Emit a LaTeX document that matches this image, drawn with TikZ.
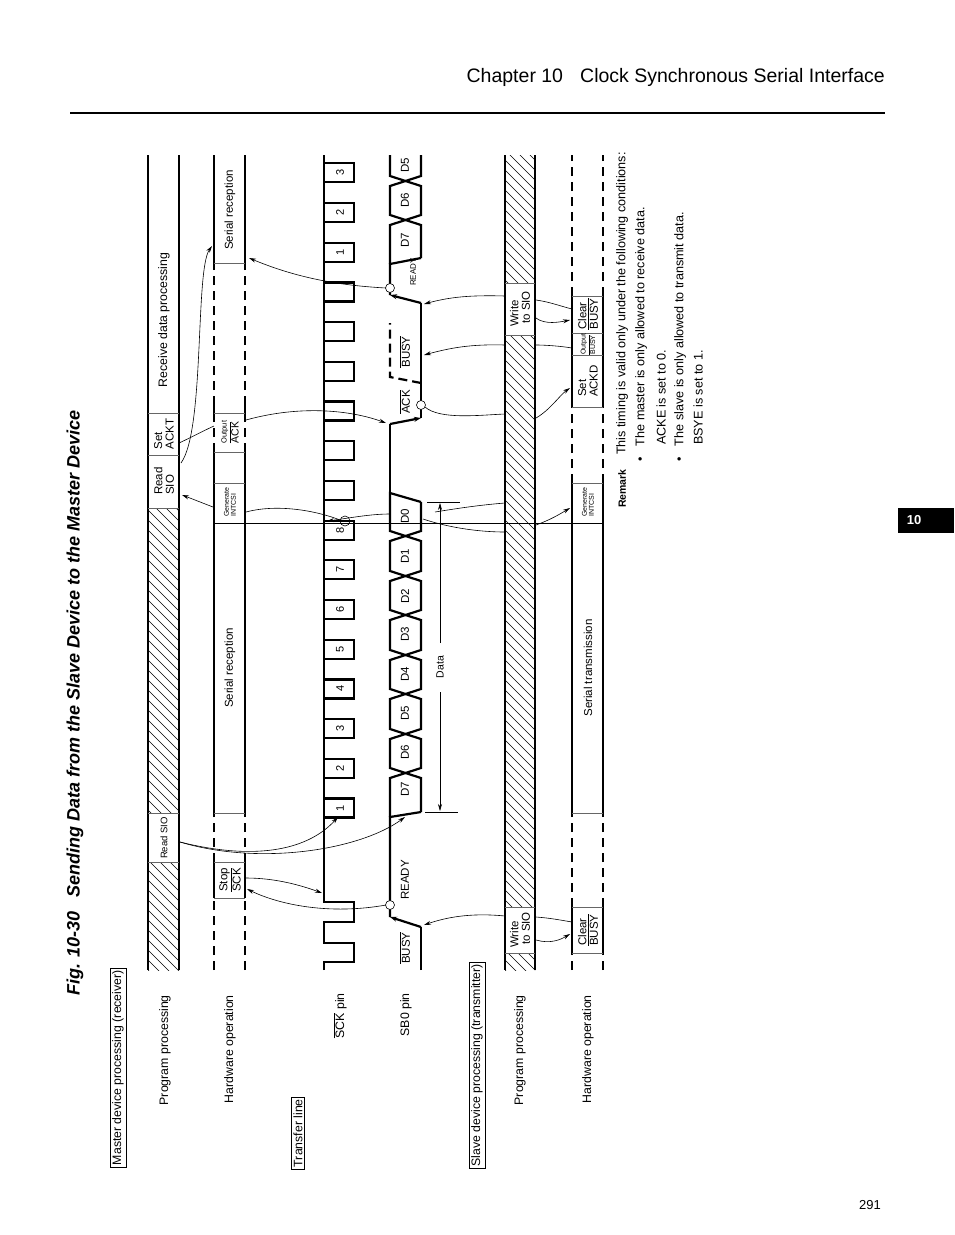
\documentclass[tikz,border=0pt]{standalone}
\usepackage{fontspec}
\setmainfont{Liberation Sans}
\usetikzlibrary{arrows.meta}
\newcommand\ovl[1]{$\overline{\mbox{#1}}$}
\newcommand\fsz[1]{\fontsize{#1}{#1}\selectfont}
\tikzset{
  lane/.style={line width=2pt},
  dlane/.style={line width=2pt,dash pattern=on 9pt off 6pt},
  sep/.style={line width=0.5pt,black!60},
  sig/.style={line width=2.2pt,line join=miter},
  hatchline/.style={line width=0.5pt},
  conn/.style={line width=0.6pt},
  arr/.style={conn,-{Stealth[length=7pt,width=4pt]}},
  lbl/.style={rotate=90,inner sep=0pt,font=\fsz{12.3}},
  blbl/.style={rotate=90,inner sep=0pt,font=\fsz{11.5},align=left},
  tlbl/.style={rotate=90,inner sep=0pt,font=\fsz{7},align=left},
}
\newcommand\hatchregion[4]{\begin{scope}\clip (#1,#2) rectangle (#3,#4);
  \foreach \hy in {90,100,...,1000} \draw[hatchline] (#1,\hy) -- ++(45,45);
\end{scope}}
\begin{document}
\begin{tikzpicture}[x=1pt,y=-1pt]
\useasboundingbox (0,0) rectangle (954,1235);
% header
\node[anchor=base east,inner sep=0pt,font=\fsz{19.5}] (hdr) at (885,82) {Chapter 10\hspace{0.6em} Clock Synchronous Serial Interface};
\draw[line width=2pt] (70,113) -- (885,113);
\fill (898,508) rectangle (954,533);
\node[text=white,font=\bfseries\fsz{13}] (tab) at (914,520.5) {10};
\node[font=\fsz{13}] (pg) at (870,1205) {291};
% title
\node[rotate=90,anchor=west,inner sep=0pt,font=\bfseries\itshape\fsz{18}] (title) at (75,996) {Fig. 10-30\hspace{0.5em} Sending Data from the Slave Device to the Master Device};
% left labels
\node[lbl,draw,inner sep=2pt,anchor=east] (mdp) at (118,968) {Master device processing (receiver)};
\node[lbl,anchor=east] (pp1) at (165,995) {Program processing};
\node[lbl,anchor=east] (ho1) at (230,995) {Hardware operation};
\node[lbl,draw,inner sep=2pt,anchor=east] (tl) at (298,1097) {Transfer line};
\node[lbl,anchor=east] (sckp) at (340,993) {\ovl{SCK} pin};
\node[lbl,anchor=east] (sbp) at (406,993) {SB0 pin};
\node[lbl,draw,inner sep=2pt,anchor=east] (sdp) at (477,962) {Slave device processing (transmitter)};
\node[lbl,anchor=east] (pp2) at (520,995) {Program processing};
\node[lbl,anchor=east] (ho2) at (588,995) {Hardware operation};

% ===== master program lane
\hatchregion{148}{862}{179}{970}
\hatchregion{148}{508}{179}{813}
\draw[lane] (148,155) -- (148,970); \draw[lane] (179,155) -- (179,970);
\foreach \yy in {862,813,508,455,413} \draw[sep] (148,\yy) -- (179,\yy);
\node[tlbl,font=\fsz{9.5}] (rsio1) at (164,838) {Read SIO};
\node[blbl] (rsio2) at (164,481) {Read\\SIO};
\node[blbl] (sackt) at (164,434) {Set\\ACKT};
\node[lbl] (rdp) at (164,320) {Receive data processing};

% ===== master hardware lane
\foreach \xx in {214,245}{
  \draw[dlane] (\xx,970) -- (\xx,898);
  \draw[lane] (\xx,898) -- (\xx,862);
  \draw[dlane] (\xx,862) -- (\xx,813);
  \draw[lane] (\xx,813) -- (\xx,452);
  \draw[dlane] (\xx,452) -- (\xx,413);
  \draw[lane] (\xx,413) -- (\xx,405);
  \draw[dlane] (\xx,405) -- (\xx,263);
  \draw[lane] (\xx,263) -- (\xx,155);}
\draw[lane] (214,483) -- (214,523);
\foreach \yy in {898,862,813,483,452,413,263} \draw[sep] (214,\yy) -- (245,\yy);
\node[blbl] (stop) at (230,880) {Stop\\\ovl{SCK}};
\node[lbl,font=\fsz{11.5}] (sr1) at (230,668) {Serial reception};
\node[tlbl] (gen1) at (230,502) {Generate\\INTCSI};
\node[tlbl,font=\fsz{7.5}] (oack) at (230,432) {Output\\{\fsz{10.5}\ovl{ACK}}};
\node[lbl,font=\fsz{11.5}] (sr2) at (230,210) {Serial reception};

% ===== long time line
\draw[line width=0.8pt] (214,523) -- (603,523);

% ===== SCK
\draw[sig] (324,970) -- (324,962) -- (354,962) -- (354,943) -- (324,943) -- (324,922) -- (354,922) -- (354,902) -- (324,902) -- (324,155);
\foreach \n in {0,...,16}{
  \pgfmathsetmacro\cc{808-39.7*\n}
  \draw[sig] (324,\cc+9.5) -- (354,\cc+9.5) -- (354,\cc-9.5) -- (324,\cc-9.5);}
\foreach \n/\t in {0/1,1/2,2/3,3/4,4/5,5/6,6/7,7/8,14/1,15/2,16/3}{
  \pgfmathsetmacro\cc{808-39.7*\n}
  \node[rotate=90,font=\fsz{11}] at (340,\cc) {\t};}
\draw[line width=0.6pt] (345,521) circle (5);

% ===== SB0
\draw[sig] (421,970) -- (421,927);
\draw[sig,-{Stealth[length=7pt,width=5pt]}] (421,927) -- (390,917);
\draw[sig] (390,917) -- (390,817) -- (421,812);
\draw[sig] (390,817) \foreach \c in {773,734,694,655,615,576,536}{ -- (390,\c+5) -- (405.5,\c) -- (390,\c-5)} -- (390,493) -- (421,502);
\draw[sig] (421,812) \foreach \c in {773,734,694,655,615,576,536}{ -- (421,\c+5) -- (405.5,\c) -- (421,\c-5)} -- (421,502);
\draw[sig] (390,493) -- (390,424);
\draw[sig,-{Stealth[length=7pt,width=5pt]}] (390,424) -- (421,418);
\draw[sig] (421,418) -- (421,303);
\draw[sig,dash pattern=on 9pt off 5pt] (421,383) -- (390,377) -- (390,323);
\draw[sig,-{Stealth[length=7pt,width=5pt]}] (421,303) -- (390,295);
\draw[sig] (390,295) -- (390,264) -- (421,258);
\draw[sig] (390,264) \foreach \c in {220,181}{ -- (390,\c+5) -- (405.5,\c) -- (390,\c-5)} -- (390,155);
\draw[sig] (421,258) \foreach \c in {220,181}{ -- (421,\c+5) -- (405.5,\c) -- (421,\c-5)} -- (421,155);
\foreach \t/\yy in {\ovl{BUSY}/948,READY/880,D7/789,D6/752,D5/713,D4/674,D3/634,D2/596,D1/556,D0/516,\ovl{ACK}/402,\ovl{BUSY}/352,D7/240,D6/200,D5/165}
  \node[rotate=90,font=\fsz{11.5}] at (405,\yy) {\t};
\node[rotate=90,font=\fsz{8}] (rdy2) at (413,272) {READY};
\draw[line width=0.6pt,fill=white] (390,905) circle (4.5);
\draw[line width=0.6pt,fill=white] (421,405) circle (4.5);
\draw[line width=0.6pt,fill=white] (390,288) circle (4.5);

% Data dimension
\draw[line width=0.6pt] (427,502) -- (460,502);
\draw[line width=0.6pt] (425,812) -- (458,812);
\draw[arr] (440,643) -- (440,503);
\draw[arr] (440,692) -- (440,811);
\node[rotate=90,font=\fsz{10.5}] (data) at (440,667) {Data};

% ===== slave program lane
\hatchregion{505}{953}{535}{970}
\hatchregion{505}{335}{535}{907}
\hatchregion{505}{155}{535}{283}
\draw[lane] (505,155) -- (505,970); \draw[lane] (535,155) -- (535,970);
\foreach \yy in {953,907,335,283} \draw[sep] (505,\yy) -- (535,\yy);
\node[blbl] (wsio1) at (520,930) {Write\\\ to SIO};
\node[blbl] (wsio2) at (520,309) {Write\\\ to SIO};

% ===== slave hardware lane
\foreach \xx in {572,603}{
  \draw[dlane] (\xx,970) -- (\xx,953);
  \draw[lane] (\xx,953) -- (\xx,907);
  \draw[dlane] (\xx,907) -- (\xx,813);
  \draw[lane] (\xx,813) -- (\xx,483);
  \draw[dlane] (\xx,483) -- (\xx,407);
  \draw[lane] (\xx,407) -- (\xx,296);
  \draw[dlane] (\xx,296) -- (\xx,155);}
\foreach \yy in {953,907,813,483,407,355,333,296} \draw[sep] (572,\yy) -- (603,\yy);
\node[blbl] (clb1) at (588,930) {Clear\\\ovl{BUSY}};
\node[lbl,font=\fsz{11.5}] (st) at (588,668) {Serial transmission};
\node[tlbl] (gen2) at (588,502) {Generate\\INTCSI};
\node[blbl] (sackd) at (588,381) {Set\\ACKD};
\node[tlbl] (obusy) at (588,344) {Output\\\ovl{BUSY}};
\node[blbl] (clb2) at (588,314) {Clear\\\ovl{BUSY}};

% ===== connector endpoints
\coordinate (a1) at (180,842); \coordinate (a1t) at (338,817); \coordinate (a1u) at (405,817);
\coordinate (b1) at (246,878); \coordinate (b1t) at (322,893);
\coordinate (c1) at (386,905); \coordinate (c1t) at (247,889);
\coordinate (d1) at (505,916); \coordinate (d1t) at (424,925);
\coordinate (e1) at (536,917); \coordinate (e1t) at (572,922);
\coordinate (f1) at (536,940); \coordinate (f1t) at (570,934);
\coordinate (g1) at (386,288); \coordinate (g1t) at (249,258);
\coordinate (h1) at (181,463); \coordinate (h1t) at (212,246);
\coordinate (i1) at (179,443); \coordinate (i1t) at (214,426);
\coordinate (j1) at (246,420); \coordinate (j1t) at (386,423);
\coordinate (k1) at (213,507); \coordinate (k1t) at (182,495);
\coordinate (l1) at (246,512); \coordinate (l1t) at (340,520);
\coordinate (m1) at (390,514); \coordinate (m1t) at (327,521);
\coordinate (n1) at (423,519); \coordinate (n1t) at (505,532);
\coordinate (o1) at (505,503); \coordinate (o1t) at (435,512);
\coordinate (p1) at (536,525); \coordinate (p1t) at (570,508);
\coordinate (q1) at (425,407); \coordinate (q1t) at (505,414);
\coordinate (r1) at (536,418); \coordinate (r1t) at (570,388);
\coordinate (s1) at (572,348); \coordinate (s1m) at (536,345);
\coordinate (s2) at (505,345); \coordinate (s2t) at (424,355);
\coordinate (t1) at (505,296); \coordinate (t1t) at (424,304);
\coordinate (u1) at (536,300); \coordinate (u1t) at (572,309);
\coordinate (v1) at (536,318); \coordinate (v1t) at (570,320);

\draw[arr] (a1) .. controls (260,862) and (310,848) .. (a1t);
\draw[arr] (a1) .. controls (260,866) and (360,850) .. (a1u);
\draw[arr] (b1) .. controls (275,878) and (300,885) .. (b1t);
\draw[arr] (c1) .. controls (330,915) and (280,905) .. (c1t);
\draw[arr] (d1) .. controls (475,913) and (450,916) .. (d1t);
\draw[conn] (e1) .. controls (550,918) and (560,920) .. (e1t);
\draw[arr] (f1) .. controls (550,944) and (560,940) .. (f1t);
\draw[arr] (g1) .. controls (330,285) and (290,275) .. (g1t);
\draw[arr] (h1) .. controls (205,430) and (195,270) .. (h1t);
\draw[conn] (i1) .. controls (190,438) and (205,430) .. (i1t);
\draw[arr] (j1) .. controls (300,405) and (350,410) .. (j1t);
\draw[arr] (k1) .. controls (200,502) and (190,498) .. (k1t);
\draw[conn] (l1) .. controls (280,503) and (320,512) .. (l1t);
\draw[arr] (m1) .. controls (370,514) and (350,518) .. (m1t);
\draw[conn] (n1) .. controls (450,528) and (480,532) .. (n1t);
\draw[conn] (o1) .. controls (480,505) and (460,508) .. (o1t);
\draw[arr] (p1) .. controls (550,520) and (560,514) .. (p1t);
\draw[conn] (q1) .. controls (440,420) and (480,415) .. (q1t);
\draw[arr] (r1) .. controls (550,410) and (560,395) .. (r1t);
\draw[conn] (s1) .. controls (560,346) and (545,345) .. (s1m);
\draw[arr] (s2) .. controls (470,344) and (450,348) .. (s2t);
\draw[arr] (t1) .. controls (470,295) and (450,297) .. (t1t);
\draw[conn] (u1) .. controls (550,302) and (560,306) .. (u1t);
\draw[arr] (v1) .. controls (545,325) and (560,322) .. (v1t);

% ===== remark
\node[rotate=90,anchor=west,inner sep=0pt,font=\bfseries\fsz{10.5}] (rem) at (622,508) {Remark};
\node[rotate=90,anchor=west,inner sep=0pt,font=\fsz{12.6}] (r0) at (622,455) {This timing is valid only under the following conditions:};
\node[rotate=90,anchor=west,inner sep=0pt,font=\fsz{12.6}] (r1) at (641,462) {\textbullet\hspace{0.9em}The master is only allowed to receive data.};
\node[rotate=90,anchor=west,inner sep=0pt,font=\fsz{12.6}] (r2) at (661,445) {ACKE is set to 0.};
\node[rotate=90,anchor=west,inner sep=0pt,font=\fsz{12.6}] (r3) at (680,462) {\textbullet\hspace{0.9em}The slave is only allowed to transmit data.};
\node[rotate=90,anchor=west,inner sep=0pt,font=\fsz{12.6}] (r4) at (698,445) {BSYE is set to 1.};
\end{tikzpicture}
\end{document}
